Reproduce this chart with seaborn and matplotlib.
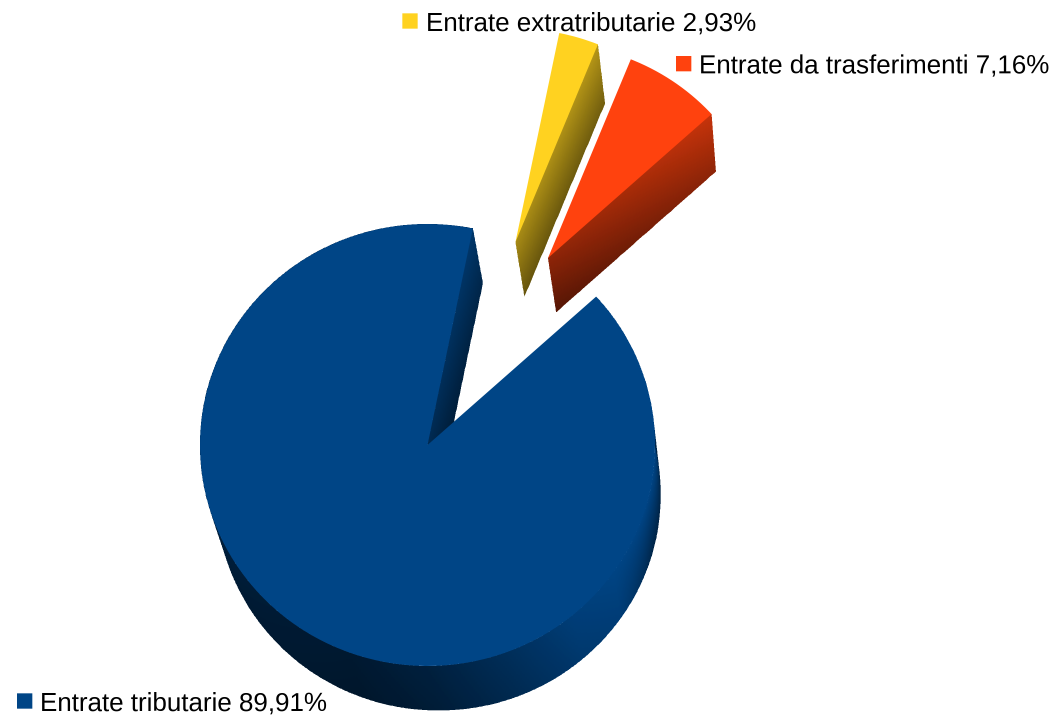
import numpy as np
import matplotlib
matplotlib.use('Agg')
import matplotlib.pyplot as plt
from matplotlib.colors import to_rgb
from matplotlib.transforms import Affine2D
import seaborn as sns

# data
categories = ['Entrate tributarie', 'Entrate da trasferimenti', 'Entrate extratributarie']
shares = [89.91, 7.16, 2.93]
colors = ['#004586', '#ff420e', '#ffd320']

sns.set_theme(style='white')
plt.rcParams['font.family'] = ['Liberation Sans', 'DejaVu Sans']

# layout, in pixels of the picture
W, H = 1057, 720
SS = 3  # drawn larger and averaged down, the shaded walls have no smooth edges otherwise
CX, CY = 427.5, 446
RX, RY = 227.5, 221
START = 78.5
offsets = [(0, -1), (120.5, -188), (88, -204)]
radius_scale = [1.0, 0.97, 0.965]
legend_xy = [(24.7, 701), (683.5, 63.5), (410, 21)]
text_x = [40, 699, 426]


def depth(p):
    # the extrusion shrinks a little towards the viewer
    return np.column_stack([21 - 0.0234 * p[:, 0], 60 - 0.0234 * p[:, 1]])


def draw_wall(ax, top, color, shade):
    # top: outline of the upper edge; shade(u, v) gives brightness, u along edge, v down the wall
    n_v = 40
    vs = np.linspace(0, 1, n_v)
    us = np.linspace(0, 1, len(top))
    d = depth(top)
    X = top[:, 0, None] + d[:, 0, None] * vs
    Y = top[:, 1, None] + d[:, 1, None] * vs
    um = (us[:-1] + us[1:]) / 2
    vm = (vs[:-1] + vs[1:]) / 2
    U, V = np.meshgrid(um, vm, indexing='ij')
    C = np.clip(shade(U, V), 0, 1)[..., None] * np.array(to_rgb(color))
    ax.pcolormesh(X, Y, C, shading='flat', antialiased=False, linewidth=0, zorder=1)


fig, ax = plt.subplots(figsize=(W / 100, H / 100), dpi=100)
fig.subplots_adjust(0, 0, 1, 1)

wedges, _ = ax.pie(shares, colors=sns.color_palette(colors), startangle=START, counterclock=True)


def ellipse_pts(i, t_deg):
    t = np.radians(t_deg)
    k = radius_scale[i]
    return np.column_stack([CX + offsets[i][0] + k * RX * np.cos(t),
                            CY + offsets[i][1] - k * RY * np.sin(t)])


for i, w in enumerate(wedges):
    k = radius_scale[i]
    w.set_transform(Affine2D().scale(k * RX, -k * RY).translate(CX + offsets[i][0], CY + offsets[i][1]) + ax.transData)
    w.set_linewidth(0)
    w.set_zorder(2)


def radial(i, t_deg, n=60):
    apex = np.array([CX + offsets[i][0], CY + offsets[i][1]])
    rim = ellipse_pts(i, np.array([t_deg]))[0]
    return apex + np.linspace(0, 1, n)[:, None] * (rim - apex)


# tributarie: curved wall and the cut face behind the gap
t1, t2 = wedges[0].theta1, wedges[0].theta2
arc_t = np.linspace(t1, t2, 900)
arc = ellipse_pts(0, arc_t)


def blue_arc_shade(U, V):
    t = t1 + U * (t2 - t1)
    a = np.interp(t, [170, 215, 250, 270, 290, 310, 325, 400], [0.5, 0.42, 0.36, 0.46, 0.66, 0.9, 0.98, 0.98])
    b = np.interp(t, [170, 325, 345, 400], [0.1, 0.1, 0.45, 0.6])
    return a * (1 - b * V)


draw_wall(ax, arc, colors[0], blue_arc_shade)
draw_wall(ax, radial(0, t1), colors[0], lambda U, V: 0.62 + 0.18 * U - 0.25 * V)

# the two pulled out slices show only the lower cut face
draw_wall(ax, radial(1, wedges[1].theta1), colors[1], lambda U, V: 0.56 + 0.22 * U - 0.22 * V)
draw_wall(ax, radial(2, wedges[2].theta1), colors[2], lambda U, V: 0.66 + 0.05 * U - 0.26 * V)

# legend keys and labels
for i, name in enumerate(categories):
    x, y = legend_xy[i]
    ax.scatter([x], [y], marker='s', s=125, color=colors[i], linewidths=0, zorder=3)
    label = f'{name} {shares[i]:.2f}%'.replace('.', ',')
    ax.text(text_x[i], y + 10, label, fontsize=18.7, color='black', va='baseline', ha='left', zorder=4)

ax.set_aspect('auto')
ax.set_xlim(0, W)
ax.set_ylim(H, 0)
ax.axis('off')

fig.set_dpi(100 * SS)
fig.canvas.draw()
big = np.asarray(fig.canvas.buffer_rgba())[..., :3] / 255
small = big.reshape(H, SS, W, SS, 3).mean(axis=(1, 3))
plt.imsave('out.png', small)
